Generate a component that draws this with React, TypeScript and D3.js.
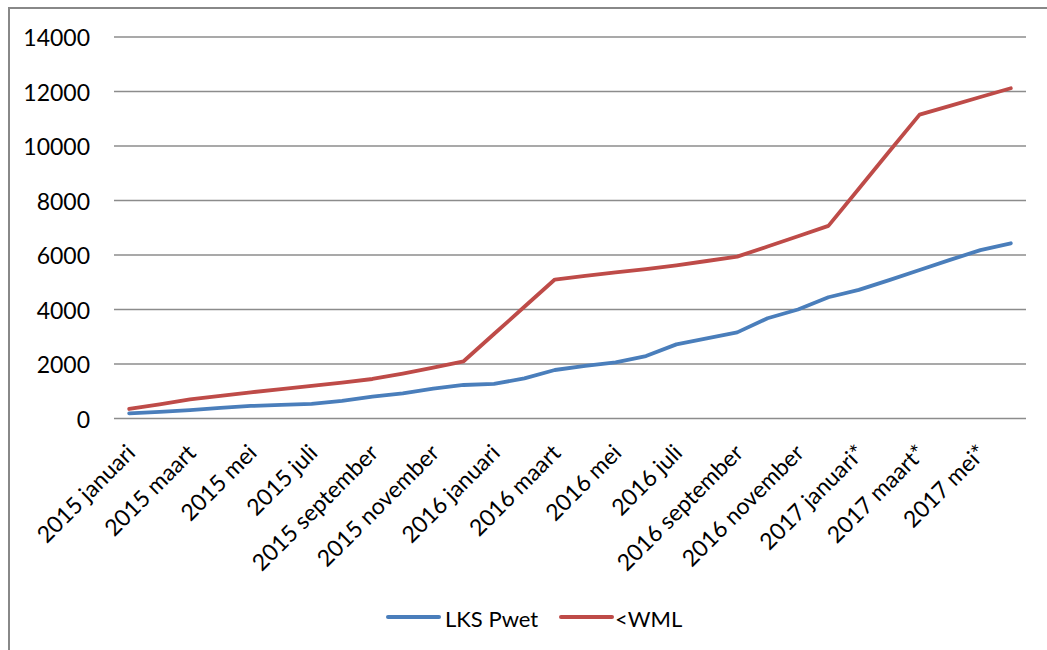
import React from "react";
import * as d3 from "d3";

const categories = [
  "2015 januari", "2015 februari", "2015 maart", "2015 april", "2015 mei", "2015 juni",
  "2015 juli", "2015 augustus", "2015 september", "2015 oktober", "2015 november", "2015 december",
  "2016 januari", "2016 februari", "2016 maart", "2016 april", "2016 mei", "2016 juni",
  "2016 juli", "2016 augustus", "2016 september", "2016 oktober", "2016 november", "2016 december",
  "2017 januari*", "2017 februari*", "2017 maart*", "2017 april*", "2017 mei*", "2017 juni*",
];

const lksPwet = [
  190, 240, 310, 390, 460, 500, 540, 650, 800, 920, 1100, 1230,
  1270, 1470, 1780, 1930, 2060, 2290, 2720, 2940, 3160, 3680, 4000, 4450,
  4720, 5080, 5450, 5820, 6180, 6430,
];

const wml = [
  350, 520, 700, 830, 960, 1080, 1200, 1320, 1450, 1650, 1870, 2100,
  3100, 4100, 5100, 5230, 5360, 5480, 5620, 5780, 5940, 6310, 6690, 7070,
  8430, 9800, 11150, 11470, 11800, 12120,
];

const yTicks = [0, 2000, 4000, 6000, 8000, 10000, 12000, 14000];

const seriesNames = ["LKS Pwet", "<WML"];
const seriesColors = ["#4A7EBB", "#BE4B48"];

const FONT = "Lato, 'Open Sans', sans-serif";

export default function App() {
  const W = 1047;
  const H = 650;
  const left = 114;
  const right = 1026;
  const top = 37;
  const bottom = 418.5;

  const x = d3
    .scaleBand<string>()
    .domain(categories)
    .range([left, right])
    .paddingInner(0)
    .paddingOuter(0);
  const cx = (c: string) => (x(c) as number) + x.bandwidth() / 2;
  const y = d3.scaleLinear().domain([0, 14000]).range([bottom, top]);

  const line = d3
    .line<number>()
    .x((_, i) => cx(categories[i]))
    .y((d) => y(d));

  const series = [lksPwet, wml];

  return (
    <svg
      width={W}
      height={H}
      style={{ position: "absolute", left: 0, top: 0, background: "#fff" }}
      fontFamily={FONT}
    >
      <rect x={0} y={0} width={W} height={H} fill="#fff" />
      <rect x={9} y={8} width={1200} height={800} fill="none" stroke="#888" strokeWidth={2} />

      {yTicks.map((t) => (
        <g key={t}>
          <line x1={left} x2={right} y1={y(t)} y2={y(t)} stroke="#8c8c8c" strokeWidth={1.3} />
          <text
            x={90}
            y={y(t)}
            textAnchor="end"
            dominantBaseline="central"
            fontSize={23}
            fill="#000"
          >
            {t}
          </text>
        </g>
      ))}

      {categories.map((c, i) =>
        i % 2 === 0 ? (
          <text
            key={c}
            transform={`translate(${cx(c) + 1},${448}) rotate(-45)`}
            textAnchor="end"
            dominantBaseline="central"
            fontSize={23}
            fill="#000"
          >
            {c}
          </text>
        ) : null
      )}

      {series.map((s, k) => (
        <path
          key={k}
          d={line(s) as string}
          fill="none"
          stroke={seriesColors[k]}
          strokeWidth={3.8}
          strokeLinejoin="round"
          strokeLinecap="round"
        />
      ))}

      {/* legend */}
      {[
        { lx: 388, tx: 445 },
        { lx: 561, tx: 615 },
      ].map((p, k) => (
        <g key={k}>
          <line
            x1={p.lx}
            x2={p.lx + 51}
            y1={617}
            y2={617}
            stroke={seriesColors[k]}
            strokeWidth={4}
            strokeLinecap="round"
          />
          <text x={p.tx} y={618} dominantBaseline="central" fontSize={22} fill="#000">
            {seriesNames[k]}
          </text>
        </g>
      ))}
    </svg>
  );
}
